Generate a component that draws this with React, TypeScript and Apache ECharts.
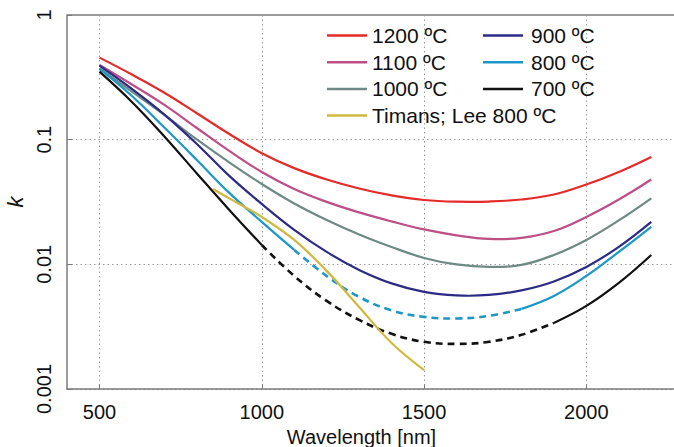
import React, { useEffect, useRef } from 'react';
import * as echarts from 'echarts';

const wavelengths = [500, 600, 700, 800, 900, 1000, 1100, 1200, 1300, 1400, 1500, 1600, 1700, 1800, 1900, 2000, 2100, 2200];
const k1200 = [0.455, 0.333, 0.238, 0.163, 0.111, 0.0779, 0.0591, 0.0479, 0.0406, 0.0357, 0.0328, 0.0318, 0.0319, 0.0331, 0.0363, 0.0437, 0.0551, 0.0727];
const k1100 = [0.397, 0.277, 0.19, 0.124, 0.0812, 0.0551, 0.0402, 0.0317, 0.0261, 0.0221, 0.01905, 0.0171, 0.016, 0.0163, 0.0185, 0.024, 0.0331, 0.0479];
const k1000 = [0.374, 0.243, 0.158, 0.1004, 0.0657, 0.0441, 0.0308, 0.0227, 0.01737, 0.01378, 0.01125, 0.00998, 0.00953, 0.00989, 0.01189, 0.01569, 0.0225, 0.0338];
const k900 = [0.392, 0.255, 0.159, 0.0924, 0.0512, 0.0305, 0.0189, 0.01258, 0.00902, 0.00703, 0.00601, 0.00563, 0.00568, 0.00618, 0.00729, 0.00953, 0.0138, 0.0219];
const k800 = [0.369, 0.224, 0.125, 0.0687, 0.0374, 0.0219, 0.01305, 0.00807, 0.00548, 0.00427, 0.00379, 0.00368, 0.00386, 0.00439, 0.00558, 0.00807, 0.01258, 0.02];
const k700 = [0.351, 0.2006, 0.1061, 0.0536, 0.0273, 0.0143, 0.00807, 0.00509, 0.00358, 0.00277, 0.00239, 0.0023, 0.00239, 0.00272, 0.00339, 0.00464, 0.0071, 0.01189];
const timansWavelengths = [850, 900, 950, 1000, 1100, 1200, 1300, 1400, 1500];
const kTimans = [0.0402, 0.0338, 0.0286, 0.024, 0.01569, 0.00886, 0.00455, 0.00234, 0.00142];

// wavelength ranges where the 800 / 700 °C curves are drawn dashed
const dashed800 = [1100, 1800];
const dashed700 = [1000, 1900];

const xTicks = [500, 1000, 1500, 2000];
const yTickLabels = ['0.001', '0.01', '0.1', '1'];

const NAMES = ['1200 ºC', '1100 ºC', '1000 ºC', '900 ºC', '800 ºC', '700 ºC', 'Timans; Lee 800 ºC'];
const COLORS = ['#e52a2a', '#bd4f86', '#6e8a84', '#2b2b86', '#1c98c8', '#111111', '#d1b93f'];

function pairs(xs: number[], ys: number[], from?: number, to?: number) {
  return xs
    .map((x, i) => [x, ys[i]] as [number, number])
    .filter(([x]) => (from === undefined || x >= from) && (to === undefined || x <= to));
}

// One smooth curve drawn through the chart's own axes (api.coord)
function curve(name: string, color: string, data: [number, number][], dash?: number[]) {
  return {
    type: 'custom',
    name,
    coordinateSystem: 'cartesian2d',
    silent: true,
    clip: true,
    itemStyle: { color },
    encode: { x: 0, y: 1 },
    data,
    renderItem: (params: any, api: any) => {
      if (params.dataIndex !== 0) return null;
      const pts = data.map((d) => api.coord(d));
      return {
        type: 'polyline',
        silent: true,
        shape: { points: pts, smooth: 0.4 },
        style: {
          stroke: color,
          fill: null,
          lineWidth: dash ? 2.6 : 2.2,
          lineDash: dash,
          lineCap: 'butt',
          lineJoin: 'round',
        },
      };
    },
  };
}

export default function App() {
  const ref = useRef<HTMLDivElement>(null);
  useEffect(() => {
    if (!ref.current) return;
    const chart = echarts.init(ref.current, null, { renderer: 'svg' });
    const font = 'Liberation Sans, Arial, sans-serif';
    const dash = [7, 5];
    const series: any[] = [
      curve(NAMES[0], COLORS[0], pairs(wavelengths, k1200)),
      curve(NAMES[1], COLORS[1], pairs(wavelengths, k1100)),
      curve(NAMES[2], COLORS[2], pairs(wavelengths, k1000)),
      curve(NAMES[3], COLORS[3], pairs(wavelengths, k900)),
      curve(NAMES[4], COLORS[4], pairs(wavelengths, k800, undefined, dashed800[0])),
      curve('800 dashed', COLORS[4], pairs(wavelengths, k800, dashed800[0], dashed800[1]), dash),
      curve(NAMES[4], COLORS[4], pairs(wavelengths, k800, dashed800[1])),
      curve(NAMES[5], COLORS[5], pairs(wavelengths, k700, undefined, dashed700[0])),
      curve('700 dashed', COLORS[5], pairs(wavelengths, k700, dashed700[0], dashed700[1]), dash),
      curve(NAMES[5], COLORS[5], pairs(wavelengths, k700, dashed700[1])),
      curve(NAMES[6], COLORS[6], pairs(timansWavelengths, kTimans)),
    ];
    const legendCommon = {
      orient: 'vertical' as const,
      icon: 'rect',
      itemWidth: 40,
      itemHeight: 2.5,
      itemGap: 5.7,
      selectedMode: false,
      padding: 0,
      textStyle: { fontFamily: font, fontSize: 21, color: '#111' },
    };
    chart.setOption({
      animation: false,
      backgroundColor: '#fff',
      color: COLORS,
      grid: { left: 67, top: 15, right: 0, bottom: 58, containLabel: false, outerBoundsMode: 'none' },
      legend: [
        { ...legendCommon, left: 327, top: 25, data: [NAMES[0], NAMES[1], NAMES[2], NAMES[6]] },
        { ...legendCommon, left: 483, top: 25, data: [NAMES[3], NAMES[4], NAMES[5]],
          textStyle: { ...legendCommon.textStyle, padding: [0, 0, 0, 3] } },
      ],
      xAxis: {
        type: 'value', min: 400, max: 2270,
        name: 'Wavelength [nm]', nameLocation: 'middle', nameGap: 38,
        nameTextStyle: { fontFamily: font, fontSize: 20, color: '#111', padding: [0, 18, 0, 0] },
        axisLine: { show: true, lineStyle: { color: '#7a7a7a', width: 1.5 } },
        axisTick: { show: true, inside: true, length: 5, customValues: xTicks, lineStyle: { color: '#7a7a7a' } },
        axisLabel: {
          customValues: xTicks, margin: 13, fontFamily: font, fontSize: 20, color: '#111',
          formatter: (v: number) => String(v),
        },
        splitLine: { show: true, lineStyle: { color: '#9a9a9a', type: [1.5, 3], width: 1 } },
      },
      yAxis: {
        type: 'log', logBase: 10, min: 0.001, max: 1,
        name: 'k', nameLocation: 'middle', nameGap: 38, nameRotate: 90,
        nameTextStyle: { fontFamily: font, fontSize: 22, fontStyle: 'italic', color: '#111' },
        axisLine: { show: true, lineStyle: { color: '#7a7a7a', width: 1.5 } },
        axisTick: { show: true, inside: true, length: 5, lineStyle: { color: '#7a7a7a' } },
        axisLabel: {
          rotate: 90, margin: 13, fontFamily: font, fontSize: 20, color: '#111',
          formatter: (v: number) => yTickLabels[Math.round(Math.log10(v)) + 3] ?? '',
        },
        splitLine: { show: true, lineStyle: { color: '#9a9a9a', type: [1.5, 3], width: 1 } },
      },
      graphic: [
        { type: 'line', shape: { x1: 67, y1: 15, x2: 674, y2: 15 }, style: { stroke: '#7a7a7a', lineWidth: 1.5 }, silent: true },
      ],
      series,
    });
    return () => chart.dispose();
  }, []);
  return (
    <div
      ref={ref}
      style={{ position: 'fixed', left: 0, top: 0, width: 674, height: 447, background: '#fff' }}
    />
  );
}
